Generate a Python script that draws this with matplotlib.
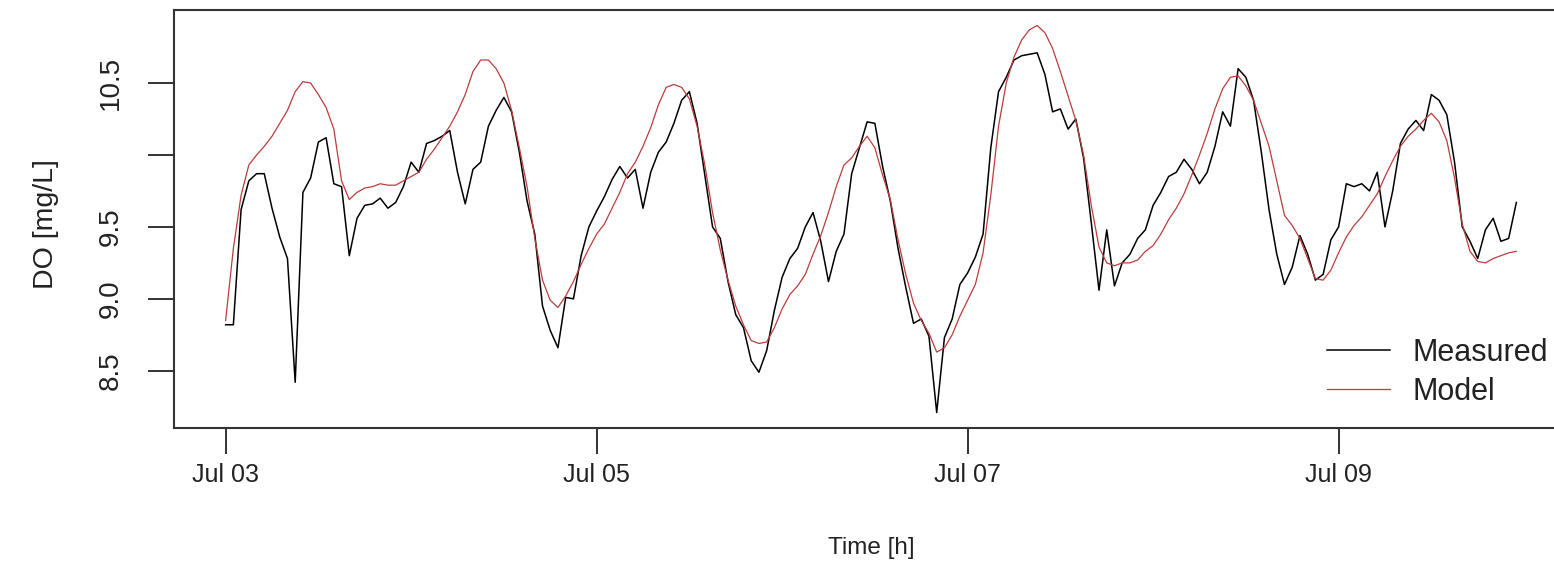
import numpy as np
import pandas as pd
import matplotlib
matplotlib.use("Agg")
import matplotlib.pyplot as plt
import matplotlib.dates as mdates

plt.rcParams['font.family'] = ['Liberation Sans', 'DejaVu Sans']

# hourly DO readings, Jul 03 00:00 .. Jul 09 23:00
measured = [
    8.82, 8.82, 9.62, 9.82, 9.87, 9.87, 9.63, 9.43, 9.28, 8.42, 9.74, 9.84,
    10.09, 10.12, 9.80, 9.78, 9.30, 9.56, 9.65, 9.66, 9.70, 9.63, 9.67, 9.78,
    9.95, 9.88, 10.08, 10.10, 10.13, 10.17, 9.88, 9.66, 9.90, 9.95, 10.20, 10.31,
    10.40, 10.30, 10.02, 9.68, 9.45, 8.95, 8.78, 8.66, 9.01, 9.00, 9.30, 9.50,
    9.61, 9.71, 9.83, 9.92, 9.84, 9.90, 9.63, 9.88, 10.02, 10.09, 10.22, 10.38,
    10.44, 10.22, 9.86, 9.50, 9.42, 9.12, 8.89, 8.80, 8.57, 8.49, 8.64, 8.92,
    9.15, 9.28, 9.35, 9.50, 9.60, 9.40, 9.12, 9.33, 9.45, 9.87, 10.05, 10.23,
    10.22, 9.92, 9.68, 9.35, 9.08, 8.83, 8.86, 8.74, 8.21, 8.73, 8.86, 9.10,
    9.18, 9.29, 9.45, 10.05, 10.44, 10.54, 10.66, 10.69, 10.70, 10.71, 10.56, 10.30,
    10.32, 10.18, 10.25, 9.98, 9.53, 9.06, 9.48, 9.09, 9.25, 9.31, 9.42, 9.48,
    9.65, 9.74, 9.85, 9.88, 9.97, 9.90, 9.80, 9.88, 10.06, 10.30, 10.20, 10.60,
    10.54, 10.38, 10.02, 9.62, 9.31, 9.10, 9.22, 9.44, 9.31, 9.13, 9.17, 9.41,
    9.50, 9.80, 9.78, 9.80, 9.75, 9.88, 9.50, 9.75, 10.08, 10.18, 10.24, 10.17,
    10.42, 10.38, 10.28, 9.95, 9.50, 9.40, 9.28, 9.48, 9.56, 9.40, 9.42, 9.67,
]

model = [
    8.85, 9.35, 9.72, 9.93, 10.00, 10.06, 10.13, 10.22, 10.31, 10.44, 10.51, 10.50,
    10.42, 10.33, 10.18, 9.82, 9.69, 9.74, 9.77, 9.78, 9.80, 9.79, 9.79, 9.82,
    9.85, 9.88, 9.97, 10.04, 10.12, 10.20, 10.30, 10.42, 10.58, 10.66, 10.66, 10.60,
    10.50, 10.31, 10.05, 9.78, 9.42, 9.13, 8.99, 8.94, 9.02, 9.12, 9.24, 9.35,
    9.45, 9.52, 9.63, 9.74, 9.87, 9.95, 10.06, 10.19, 10.35, 10.47, 10.49, 10.47,
    10.39, 10.20, 9.93, 9.60, 9.34, 9.13, 8.95, 8.82, 8.71, 8.69, 8.70, 8.80,
    8.93, 9.03, 9.09, 9.17, 9.31, 9.44, 9.60, 9.78, 9.93, 9.98, 10.06, 10.13,
    10.05, 9.86, 9.69, 9.41, 9.17, 8.97, 8.85, 8.76, 8.63, 8.66, 8.75, 8.88,
    8.99, 9.10, 9.32, 9.72, 10.20, 10.50, 10.68, 10.80, 10.87, 10.90, 10.85, 10.74,
    10.58, 10.41, 10.24, 10.00, 9.65, 9.36, 9.25, 9.23, 9.25, 9.25, 9.27, 9.33,
    9.37, 9.45, 9.55, 9.63, 9.73, 9.86, 10.00, 10.15, 10.32, 10.46, 10.54, 10.55,
    10.48, 10.38, 10.22, 10.06, 9.82, 9.58, 9.51, 9.42, 9.28, 9.14, 9.13, 9.20,
    9.32, 9.43, 9.51, 9.57, 9.65, 9.73, 9.85, 9.96, 10.06, 10.13, 10.18, 10.24,
    10.29, 10.23, 10.10, 9.84, 9.52, 9.33, 9.26, 9.25, 9.28, 9.30, 9.32, 9.33,
]

times = pd.date_range("2014-07-03 00:00", periods=len(measured), freq="h")
tick_days = ["2014-07-03", "2014-07-05", "2014-07-07", "2014-07-09"]
y_ticks = [8.5, 9.0, 9.5, 10.0, 10.5]
y_tick_labels = ["8.5", "9.0", "9.5", "", "10.5"]

fig = plt.figure(figsize=(15.54, 5.81), dpi=100)
W, H = 1554, 581
ax = fig.add_axes([174 / W, 1 - 428 / H, (1568 - 174) / W, (428 - 10) / H])

ax.plot(times, measured, color="black", lw=1.1, label="Measured")
ax.plot(times, model, color="#BC3C3C", lw=0.9, label="Model")

# R style 4% padding
xn = mdates.date2num(times)
pad = 0.04 * (xn[-1] - xn[0])
ax.set_xlim(xn[0] - pad, xn[-1] + pad)
allv = np.array(measured + model)
ypad = 0.04 * (allv.max() - allv.min())
ax.set_ylim(allv.min() - ypad, allv.max() + ypad)

ax.set_xticks(mdates.date2num(pd.to_datetime(tick_days)))
ax.xaxis.set_major_formatter(mdates.DateFormatter("%b %d"))
ax.set_yticks(y_ticks)
ax.set_yticklabels(y_tick_labels)

ax.tick_params(axis="both", direction="out", length=19, width=1.3,
               color="#222222", labelcolor="#222222")
ax.tick_params(axis="x", pad=6, labelsize=18)
ax.tick_params(axis="y", pad=17, labelrotation=90, labelsize=20)
for lab in ax.get_yticklabels():
    lab.set_va("center")

for s in ax.spines.values():
    s.set_linewidth(1.5)
    s.set_color("#333333")

fig.text(0.5 * (174 + 1568) / W, 1 - 548 / H, "Time [h]", ha="center", va="center",
         fontsize=17.5, color="#222222")
fig.text(46 / W, 1 - 224 / H, "DO [mg/L]", ha="center", va="center", rotation=90,
         fontsize=20.5, color="#222222")

ax.legend(loc="upper left", bbox_to_anchor=(1327 / W, 1 - 338 / H),
          bbox_transform=fig.transFigure, frameon=False, fontsize=22,
          handlelength=2.05, handletextpad=0.75, labelspacing=0.28,
          borderpad=0, borderaxespad=0, labelcolor="#222222")

fig.savefig("out.png", dpi=100)
